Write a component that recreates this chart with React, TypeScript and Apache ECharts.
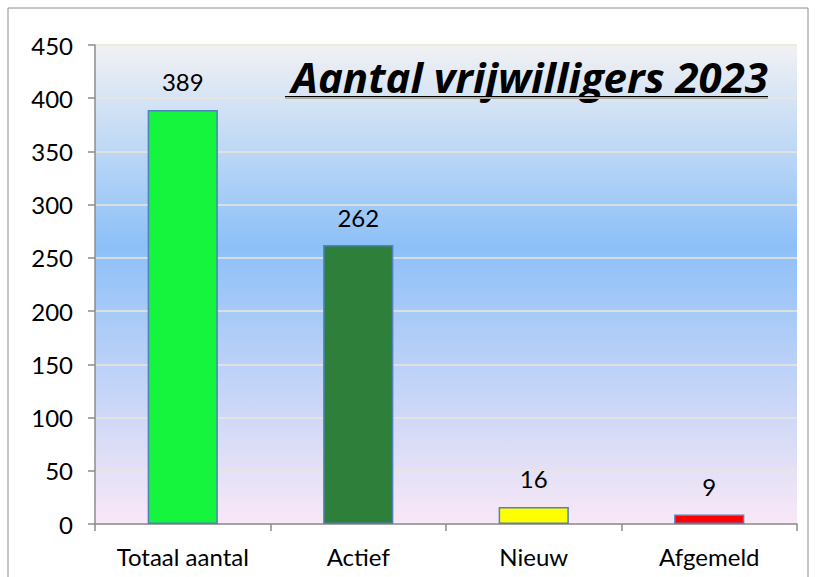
import React, { useEffect, useRef } from "react";
import * as echarts from "echarts";

const categories = ["Totaal aantal", "Actief", "Nieuw", "Afgemeld"];
const values = [389, 262, 16, 9];
const barColors = ["#16f53e", "#2e7f39", "#ffff00", "#ff0000"];
const titleText = "Aantal vrijwilligers 2023";

export default function App() {
  const ref = useRef<HTMLDivElement>(null);
  useEffect(() => {
    const chart = echarts.init(ref.current!, null, { renderer: "svg" });
    const font = "Lato, 'Open Sans', sans-serif";
    chart.setOption({
      animation: false,
      backgroundColor: "#ffffff",
      grid: {
        left: 95,
        right: 21,
        top: 45,
        bottom: 53,
        show: true,
        borderWidth: 0,
        backgroundColor: new echarts.graphic.LinearGradient(0, 0, 0, 1, [
          { offset: 0, color: "#f1f1f3" },
          { offset: 0.42, color: "#8dc0f8" },
          { offset: 1, color: "#f9e8f6" },
        ]),
      },
      xAxis: {
        type: "category",
        data: categories,
        axisLine: { show: true, lineStyle: { color: "#8c8c8c", width: 1.5 } },
        axisTick: { show: true, length: 7, lineStyle: { color: "#8c8c8c", width: 1.5 } },
        axisLabel: { color: "#000", fontSize: 24, fontFamily: font, margin: 20 },
      },
      yAxis: {
        type: "value",
        min: 0,
        max: 450,
        interval: 50,
        axisLine: { show: true, lineStyle: { color: "#8c8c8c", width: 1.5 } },
        axisTick: { show: true, length: 7, lineStyle: { color: "#8c8c8c", width: 1.5 } },
        axisLabel: { color: "#000", fontSize: 24, fontFamily: font, margin: 22 },
        splitLine: { show: true, lineStyle: { color: "#ebe6d8", width: 1.5 } },
      },
      series: [
        {
          type: "bar",
          barWidth: "40%",
          data: values.map((v, i) => ({
            value: v,
            itemStyle: { color: barColors[i], borderColor: "#4f81bd", borderWidth: 1.5 },
          })),
          label: {
            show: true,
            position: "top",
            distance: 16,
            color: "#000",
            fontSize: 24,
            fontFamily: font,
          },
        },
      ],
      graphic: [
        {
          type: "rect",
          shape: { x: 8, y: 8, width: 800, height: 640 },
          style: { fill: "none", stroke: "#8c8c8c", lineWidth: 1 },
          silent: true,
        },
        {
          type: "text",
          x: 768,
          y: 97,
          style: {
            text: titleText,
            fill: "#000",
            font: "italic bold 42px 'Open Sans', sans-serif",
            textAlign: "right",
            textVerticalAlign: "bottom",
          },
        },
        {
          type: "rect",
          shape: { x: 285, y: 96, width: 483, height: 3 },
          style: { fill: "#000" },
        },
      ],
    });
    return () => chart.dispose();
  }, []);
  return (
    <div
      ref={ref}
      style={{ position: "fixed", left: 0, top: 0, width: 818, height: 577 }}
    />
  );
}
